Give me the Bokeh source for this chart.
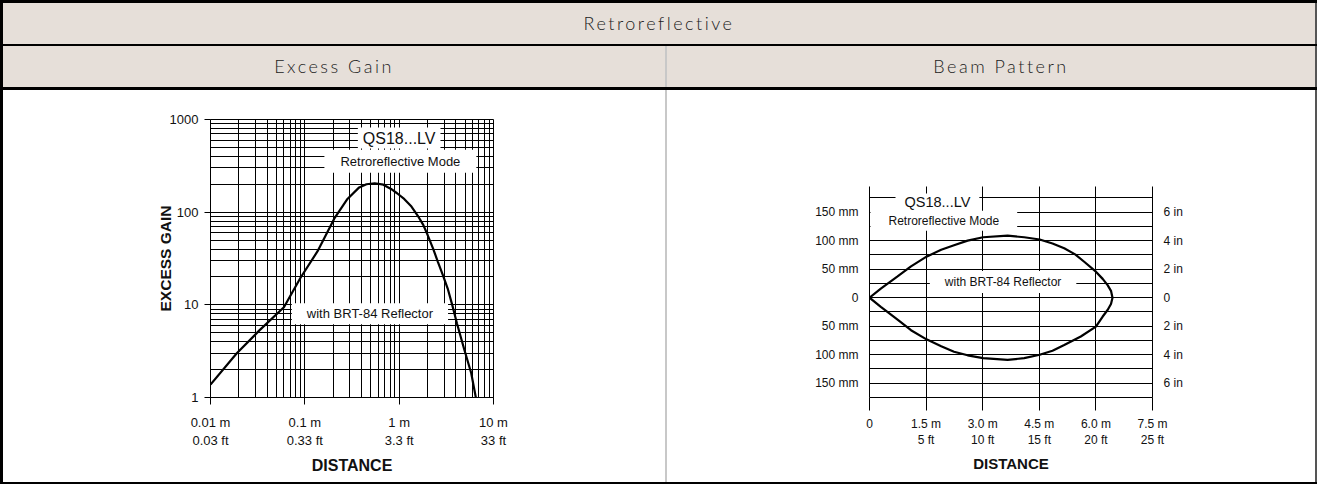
import numpy as np
from bokeh.plotting import figure
from bokeh.models import Div, LinearAxis, FixedTicker, Range1d, Label, Grid, BoxAnnotation
from bokeh.layouts import column, row
from bokeh.embed import file_html
from bokeh.resources import INLINE

# ---------------- data ----------------
table_title = "Retroreflective"
panel_titles = ["Excess Gain", "Beam Pattern"]

gain_distance_m = [0.01, 0.019, 0.033, 0.06, 0.09, 0.136, 0.205, 0.283, 0.377, 0.45, 0.55,
                   0.68, 0.82, 0.95, 1.13, 1.35, 1.57, 1.8, 2.0, 2.3, 2.56, 2.9, 3.27, 3.7,
                   4.1, 4.9, 5.8, 6.5]
gain_values = [1.38, 3.0, 5.3, 9.4, 19.6, 37.7, 85, 139, 185, 200, 205,
               198, 178, 160, 139, 115, 92, 73, 57, 40, 29.5, 21, 15, 9.5,
               6.3, 3.3, 1.84, 1.0]
gain_x_ticks = [0.01, 0.1, 1, 10]
gain_x_labels_m = ["0.01 m", "0.1 m", "1 m", "10 m"]
gain_x_labels_ft = ["0.03 ft", "0.33 ft", "3.3 ft", "33 ft"]
gain_y_ticks = [1, 10, 100, 1000]
gain_y_labels = ["1", "10", "100", "1000"]

beam_distance_m = [0, 0.3, 0.735, 1.1, 1.51, 1.9, 2.24, 2.6, 3.01, 3.66, 4.1, 4.51, 4.85, 5.16,
                   5.45, 5.69, 6.0, 6.18, 6.31, 6.4, 6.44,
                   6.4, 6.31, 6.18, 6.0, 5.6, 5.16, 4.85, 4.51, 4.1, 3.66, 3.01, 2.6, 2.24,
                   1.9, 1.51, 1.1, 0.735, 0.3, 0]
beam_offset_mm = [0, 16, 36.8, 55, 72, 84, 92, 100, 106, 108.7, 106, 102, 95, 86.6,
                  76, 63, 45.6, 33, 22, 12, 0,
                  -11, -21.6, -33, -50.8, -68, -83, -93, -100, -106, -109, -106, -101, -94.7,
                  -85, -73, -57, -38, -16, 0]
beam_x_ticks = [0, 1.5, 3.0, 4.5, 6.0, 7.5]
beam_x_labels_m = ["0", "1.5 m", "3.0 m", "4.5 m", "6.0 m", "7.5 m"]
beam_x_labels_ft = ["", "5 ft", "10 ft", "15 ft", "20 ft", "25 ft"]
beam_y_ticks = [-150, -100, -50, 0, 50, 100, 150]
beam_y_labels_mm = ["150 mm", "100 mm", "50 mm", "0", "50 mm", "100 mm", "150 mm"]
beam_y_labels_in = ["6 in", "4 in", "2 in", "0", "2 in", "4 in", "6 in"]
beam_grid_step_mm = 25
beam_grid_extent_mm = (-175, 175)
beam_chart_top_mm = 195

# ---------------- styles ----------------
FONT = "Liberation Sans"
HEAD_FONT = "Lato"
HEAD_BG = "#e6dfd9"
TXT = "#111111"


def bar(w, h, color):
    return Div(text="", width=w, height=h, margin=0,
               styles={"background-color": color, "overflow": "hidden"})


def head(text, w, h, indent=0):
    return Div(text=text, width=w, height=h, margin=0,
               styles={"background-color": HEAD_BG, "text-align": "center",
                       "font-family": HEAD_FONT, "font-size": "18px", "font-weight": "300",
                       "letter-spacing": "2.5px", "line-height": f"{h}px",
                       "text-indent": f"{indent}px",
                       "color": "#222222", "overflow": "hidden"})


def box_label(p, x, y, text, size, pad_h, pad_v):
    p.add_layout(Label(x=x, y=y, text=text, text_align="center", text_baseline="middle",
                       text_font=FONT, text_font_size=size, text_color=TXT,
                       background_fill_color="white",
                       padding=dict(left=pad_h, right=pad_h, top=pad_v, bottom=pad_v)))


def style_axis(ax, size):
    ax.axis_line_color = "black"
    ax.major_tick_line_color = "black"
    ax.major_tick_in = 0
    ax.minor_tick_in = 0
    ax.minor_tick_out = 0
    ax.major_label_text_font = FONT
    ax.major_label_text_font_size = size
    ax.major_label_text_color = TXT
    ax.axis_label_text_font = FONT
    ax.axis_label_text_font_style = "bold"
    ax.axis_label_text_color = TXT


# both plot frames share the same top/bottom (plots in a row get aligned)
PANEL_H = 392
FRAME_TOP = 29
FRAME_BOTTOM = 85
FRAME_H = PANEL_H - FRAME_TOP - FRAME_BOTTOM

# ---------------- excess gain ----------------
pg = figure(width=662, height=PANEL_H, x_axis_type="log", y_axis_type="log",
            x_range=Range1d(0.01, 10), y_range=Range1d(1, 1000),
            output_backend="svg", toolbar_location=None,
            min_border_left=207, min_border_right=172,
            min_border_top=FRAME_TOP, min_border_bottom=FRAME_BOTTOM,
            background_fill_color="white", border_fill_color="white")
minor = [m * 10.0 ** e for e in range(-2, 1) for m in range(2, 10)]
pg.xaxis.ticker = FixedTicker(ticks=gain_x_ticks, minor_ticks=minor)
minor_y = [m * 10.0 ** e for e in range(0, 3) for m in range(2, 10)]
pg.yaxis.ticker = FixedTicker(ticks=gain_y_ticks, minor_ticks=minor_y)
pg.xaxis.major_label_overrides = {t: a + "\n" + b for t, a, b in zip(gain_x_ticks, gain_x_labels_m, gain_x_labels_ft)}
pg.yaxis.major_label_overrides = {t: s for t, s in zip(gain_y_ticks, gain_y_labels)}
style_axis(pg.xaxis[0], "13px")
style_axis(pg.yaxis[0], "13px")
pg.xaxis.major_tick_out = 7
pg.xaxis.major_label_standoff = 10
pg.xaxis.axis_label = "DISTANCE"
pg.xaxis.axis_label_text_font_size = "16px"
pg.xaxis.axis_label_standoff = 6
pg.yaxis.major_tick_out = 6
pg.yaxis.major_label_standoff = 6
pg.yaxis.axis_label = "EXCESS GAIN"
pg.yaxis.axis_label_text_font_size = "15.5px"
pg.yaxis.axis_label_standoff = -7
for g in (pg.xgrid[0], pg.ygrid[0]):
    g.grid_line_color = "black"
    g.grid_line_width = 1
    g.minor_grid_line_color = "black"
    g.minor_grid_line_width = 1
pg.outline_line_color = "black"
pg.outline_line_width = 1

box_label(pg, 1.0, 630, "QS18...LV", "16px", 5, 2)
box_label(pg, 1.03, 355, "Retroreflective Mode", "13px", 16, 4)
box_label(pg, 0.49, 8.0, "with BRT-84 Reflector", "13px", 15, 3)
pg.line(gain_distance_m, gain_values, line_width=2.2, line_color="black")

# ---------------- beam pattern ----------------
PX_PER_MM = 0.5703
y_bot = beam_grid_extent_mm[0]
y_top = y_bot + FRAME_H / PX_PER_MM

pb = figure(width=648, height=PANEL_H, x_range=Range1d(0, 7.5), y_range=Range1d(y_bot, y_top),
            output_backend="svg", toolbar_location=None,
            min_border_left=202, min_border_right=163,
            min_border_top=FRAME_TOP, min_border_bottom=FRAME_BOTTOM,
            background_fill_color="white", border_fill_color="white")
pb.xaxis.ticker = FixedTicker(ticks=beam_x_ticks)
pb.xaxis.major_label_overrides = {t: (a + "\n" + b if b else a) for t, a, b in zip(beam_x_ticks, beam_x_labels_m, beam_x_labels_ft)}
pb.yaxis.ticker = FixedTicker(ticks=beam_y_ticks)
pb.yaxis.major_label_overrides = {t: s for t, s in zip(beam_y_ticks, beam_y_labels_mm)}
right_axis = LinearAxis(ticker=FixedTicker(ticks=beam_y_ticks),
                        major_label_overrides={t: s for t, s in zip(beam_y_ticks, beam_y_labels_in)})
pb.add_layout(right_axis, "right")
style_axis(pb.xaxis[0], "12px")
style_axis(pb.yaxis[0], "12px")
style_axis(right_axis, "12px")
pb.xaxis.major_tick_out = 13
pb.xaxis.major_label_standoff = 6
pb.xaxis.axis_label = "DISTANCE"
pb.xaxis.axis_label_text_font_size = "15px"
pb.xaxis.axis_label_standoff = 5
for ax in (pb.yaxis[0], right_axis):
    ax.major_tick_out = 0
    ax.major_label_standoff = 11
    ax.bounds = (beam_grid_extent_mm[0], beam_chart_top_mm)
pb.ygrid.ticker = FixedTicker(ticks=list(range(beam_grid_extent_mm[0], beam_grid_extent_mm[1] + 1, beam_grid_step_mm)))
for g in (pb.xgrid[0], pb.ygrid[0]):
    g.grid_line_color = "black"
    g.grid_line_width = 1
if "cross_bounds" in Grid.properties():
    pb.xgrid.cross_bounds = (beam_grid_extent_mm[0], beam_chart_top_mm)
else:
    pb.add_layout(BoxAnnotation(bottom=beam_chart_top_mm, fill_color="white", fill_alpha=1,
                                line_color=None, level="underlay"))
pb.outline_line_color = None

box_label(pb, 1.8, 167, "QS18...LV", "14.5px", 9, 1)
box_label(pb, 1.97, 135, "Retroreflective Mode", "12px", 18, 3)
box_label(pb, 3.54, 27.5, "with BRT-84 Reflector", "12px", 15, 4)
pb.line(beam_distance_m, beam_offset_mm, line_width=2.2, line_color="black")

# ---------------- table layout ----------------
BLACK = "#000000"
DIV_GRAY = "#c8c8c8"
RIGHT = "#555555"
W = 1317
page = column(
    bar(W, 3, BLACK),
    row(bar(3, 41, BLACK), head(table_title, 1312, 41), bar(2, 41, RIGHT), spacing=0),
    bar(W, 2, BLACK),
    row(bar(3, 41, BLACK), head(panel_titles[0], 662, 41), bar(2, 41, DIV_GRAY),
        head(panel_titles[1], 648, 41, indent=20), bar(2, 41, RIGHT), spacing=0),
    bar(W, 3, BLACK),
    row(bar(3, PANEL_H, BLACK), pg, bar(2, PANEL_H, DIV_GRAY), pb, bar(2, PANEL_H, RIGHT), spacing=0),
    bar(W, 2, BLACK),
    spacing=0,
)

open("out.html", "w").write(file_html(page, INLINE))
